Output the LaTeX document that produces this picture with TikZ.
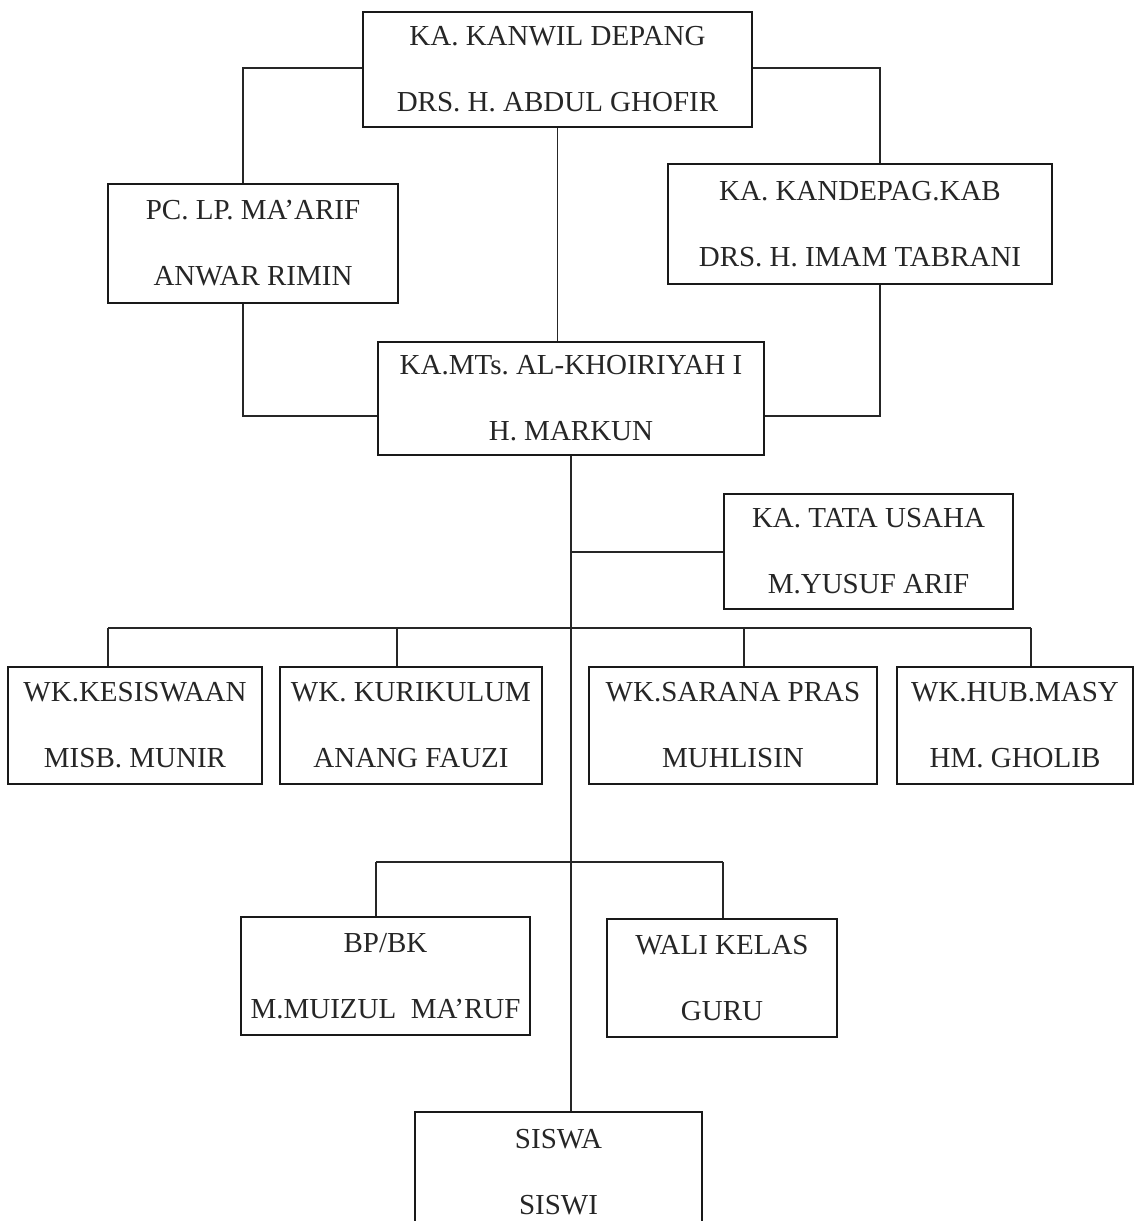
\documentclass[tikz,border=0pt]{standalone}
\usepackage{fontspec}
\setmainfont{Liberation Serif}
\frenchspacing
\begin{document}
\begin{tikzpicture}[x=1pt,y=-1pt,
  box/.style={draw=black!90, line width=1.8pt, rectangle, inner sep=0pt, align=center,
    font=\fontsize{29}{66}\selectfont, text=black!85},
  conn/.style={draw=black!85, line width=1.3pt}]
\useasboundingbox (0,0) rectangle (1136,1221);
\node[box, minimum width=389, minimum height=115] (top) at (557.5,69.5) {KA. KANWIL DEPANG\\DRS. H. ABDUL GHOFIR};
\node[box, minimum width=290, minimum height=119] (pc) at (253,243.5) {PC. LP. MA'ARIF\\ANWAR RIMIN};
\node[box, minimum width=384, minimum height=120] (kd) at (860,224) {KA. KANDEPAG.KAB\\DRS. H. IMAM TABRANI};
\node[box, minimum width=386, minimum height=113] (mk) at (571,398.5) {KA.MTs. AL-KHOIRIYAH I\\H. MARKUN};
\node[box, minimum width=289, minimum height=115] (tu) at (868.5,551.5) {KA. TATA USAHA\\M.YUSUF ARIF};
\node[box, minimum width=254, minimum height=117] (wk1) at (135,725.5) {WK.KESISWAAN\\MISB. MUNIR};
\node[box, minimum width=262, minimum height=117] (wk2) at (411,725.5) {WK. KURIKULUM\\ANANG FAUZI};
\node[box, minimum width=288, minimum height=117] (wk3) at (733,725.5) {WK.SARANA PRAS\\MUHLISIN};
\node[box, minimum width=236, minimum height=117] (wk4) at (1015,725.5) {WK.HUB.MASY\\HM. GHOLIB};
\node[box, minimum width=289, minimum height=118] (bp) at (385.5,976) {BP/BK\\M.MUIZUL\ \ MA'RUF};
\node[box, minimum width=230, minimum height=118] (wali) at (722,978) {WALI KELAS\\GURU};
\node[box, minimum width=287, minimum height=120] (siswa) at (558.5,1172) {SISWA\\SISWI};

% coordinates
\coordinate (pcl) at (243,68);
\coordinate (kdl) at (880,68);
\coordinate (pcb) at (243,416);
\coordinate (kdb) at (880,416);
\coordinate (j1) at (571,552);
\coordinate (d1) at (108,628);
\coordinate (d2) at (397,628);
\coordinate (d3) at (744,628);
\coordinate (d4) at (1031,628);
\coordinate (e1) at (376,862);
\coordinate (e2) at (723,862);

% connectors
\draw[conn] (top.west |- pcl) -- (pcl) -- (pcl |- pc.north);
\draw[conn] (top.east |- kdl) -- (kdl) -- (kdl |- kd.north);
\draw[conn] (top.south) -- (top.south |- mk.north);
\draw[conn] (pcl |- pc.south) -- (pcb) -- (pcb -| mk.west);
\draw[conn] (kdl |- kd.south) -- (kdb) -- (kdb -| mk.east);
\draw[conn] (mk.south) -- (mk.south |- siswa.north);
\draw[conn] (j1) -- (j1 -| tu.west);
\draw[conn] (d1) -- (d4);
\draw[conn] (d1) -- (d1 |- wk1.north);
\draw[conn] (d2) -- (d2 |- wk2.north);
\draw[conn] (d3) -- (d3 |- wk3.north);
\draw[conn] (d4) -- (d4 |- wk4.north);
\draw[conn] (e1) -- (e2);
\draw[conn] (e1) -- (e1 |- bp.north);
\draw[conn] (e2) -- (e2 |- wali.north);
\end{tikzpicture}
\end{document}
